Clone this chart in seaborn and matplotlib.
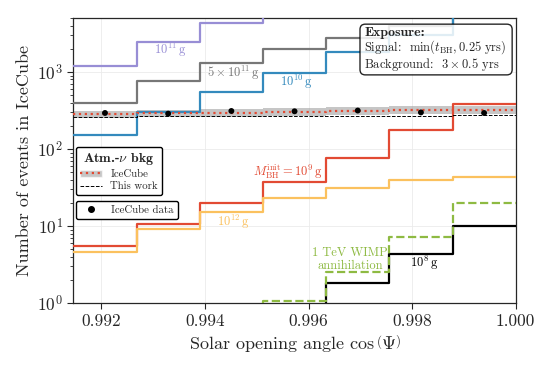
import numpy as np
import pandas as pd
import matplotlib
matplotlib.use("Agg")
import matplotlib.pyplot as plt
import seaborn as sns
from matplotlib.patches import Patch, FancyBboxPatch
from matplotlib.lines import Line2D

# cos(Psi) bin edges (7 bins)
bin_edges = [0.99146, 0.99268, 0.99390, 0.99512, 0.99634, 0.99756, 0.99878, 1.0]

# expected signal counts per bin for each initial PBH mass
sig_1e8 = [0.5, 0.5, 0.5, 0.5, 1.84, 4.33, 10.1]
sig_1e9 = [5.5, 10.8, 20.1, 37.0, 76.0, 178.0, 380.0]
sig_1e10 = [151.0, 300.0, 545.0, 980.0, 1840.0, 3000.0, 8000.0]
sig_1e11 = [1210.0, 2430.0, 4290.0, 8000.0, 10000.0, 12000.0, 14000.0]
sig_5e11 = [395.0, 771.0, 1320.0, 2010.0, 2750.0, 4000.0, 6000.0]
sig_1e12 = [4.55, 9.06, 15.2, 23.3, 31.4, 39.5, 43.7]
wimp_1tev = [0.5, 0.5, 0.5, 1.06, 2.55, 7.26, 19.7]

# atmospheric neutrino background
bkg_icecube = [281.0, 290.0, 296.0, 303.0, 312.0, 318.0, 322.0]
bkg_icecube_lo = [250.0, 258.0, 263.0, 269.0, 277.0, 283.0, 286.0]
bkg_icecube_hi = [316.0, 326.0, 333.0, 341.0, 351.0, 358.0, 362.0]
bkg_this_work = [263.0, 265.0, 266.0, 268.0, 270.0, 272.0, 274.0]

# IceCube data points
data_counts = [294.0, 288.0, 312.0, 309.0, 316.0, 299.0, 294.0]

RED, BLUE, PURPLE, GRAY, ORANGE, GREEN = "#E24A33", "#348ABD", "#988ED5", "#777777", "#FBC15E", "#8EBA42"

sns.set_style("ticks")
plt.rcParams.update({
    "font.family": "serif",
    "font.serif": ["cmr10"],
    "mathtext.fontset": "cm",
    "axes.formatter.use_mathtext": True,
    "axes.unicode_minus": False,
})


def step(ax, vals, color, ls="-", lw=1.6, zorder=3):
    sns.lineplot(x=bin_edges, y=list(vals) + [vals[-1]], drawstyle="steps-post", estimator=None,
                 sort=False, color=color, linestyle=ls, lw=lw, ax=ax, zorder=zorder)


fig = plt.figure(figsize=(5.56, 3.71), dpi=100)
ax = fig.add_axes([0.132, 0.183, 0.7955, 0.768])
ax.set_yscale("log")

ax.fill_between(bin_edges, bkg_icecube_lo + [bkg_icecube_lo[-1]], bkg_icecube_hi + [bkg_icecube_hi[-1]],
                step="post", color="#a0a0a0", alpha=0.6, lw=0, zorder=2)
step(ax, bkg_icecube, RED, ls=":", lw=1.6, zorder=4)
step(ax, bkg_this_work, "black", ls="--", lw=0.7, zorder=4)

step(ax, sig_1e11, PURPLE)
step(ax, sig_5e11, GRAY)
step(ax, sig_1e10, BLUE)
step(ax, sig_1e9, RED)
step(ax, sig_1e12, ORANGE)
step(ax, sig_1e8, "black")
step(ax, wimp_1tev, GREEN, ls="--")

centers = [(a + b) / 2 for a, b in zip(bin_edges[:-1], bin_edges[1:])]
sns.scatterplot(x=centers, y=data_counts, color="black", s=18, edgecolor="none", ax=ax, zorder=6)

ax.set_xlim(bin_edges[0], 1.0)
ax.set_ylim(1, 5000)
ax.set_xticks([0.992, 0.994, 0.996, 0.998, 1.000])
ax.set_xticklabels(["0.992", "0.994", "0.996", "0.998", "1.000"])
ax.tick_params(labelsize=12.5, length=4, width=0.8)
ax.tick_params(which="minor", length=2.5, width=0.6)
ax.grid(True, which="major", color="#ebebeb", lw=0.6)
ax.set_axisbelow(True)
for s in ax.spines.values():
    s.set_linewidth(0.9)

ax.set_xlabel(r"Solar opening angle $\cos\left(\Psi\right)$", fontsize=13, labelpad=3)
ax.set_ylabel("Number of events in IceCube", fontsize=13)

fs = 9
ax.text(0.99333, 1950, r"$10^{11}\,\mathrm{g}$", color=PURPLE, fontsize=fs, ha="center", va="center")
ax.text(0.99456, 980, r"$5\times10^{11}\,\mathrm{g}$", color=GRAY, fontsize=fs, ha="center", va="center")
ax.text(0.99576, 748, r"$10^{10}\,\mathrm{g}$", color=BLUE, fontsize=fs, ha="center", va="center")
ax.text(0.99561, 50, r"$M_{\rm BH}^{\rm init}=10^{9}\,\mathrm{g}$", color=RED, fontsize=fs, ha="center", va="center")
ax.text(0.99454, 11.4, r"$10^{12}\,\mathrm{g}$", color=ORANGE, fontsize=fs, ha="center", va="center")
ax.text(0.99680, 3.67, "1 TeV WIMP\nannihilation", color=GREEN, fontsize=fs, ha="center", va="center",
        linespacing=1.05)
ax.text(0.99823, 3.28, r"$10^{8}\,\mathrm{g}$", color="black", fontsize=fs, ha="center", va="center")

# exposure box (axes coordinates)
ax_w, ax_h = 442.4, 285.0
ax.add_patch(FancyBboxPatch((0.648, 0.801), 0.344, 0.178, boxstyle="round,pad=0,rounding_size=0.012",
                            mutation_aspect=ax_w / ax_h, transform=ax.transAxes, fc="white", ec="black",
                            lw=1.0, alpha=0.85, zorder=9, clip_on=False))
ax.text(0.658, 0.937, "Exposure:", family="cmb10", fontsize=10, transform=ax.transAxes,
        ha="left", va="baseline", zorder=10)
ax.text(0.658, 0.885, "Signal:  $\\min(t_{\\rm BH}, 0.25\\ {\\rm yrs})$", fontsize=9, transform=ax.transAxes,
        ha="left", va="baseline", zorder=10)
ax.text(0.658, 0.824, "Background:  $3\\times0.5$ yrs", fontsize=9, transform=ax.transAxes,
        ha="left", va="baseline", zorder=10)

bkg_handles = [(Patch(facecolor="#a0a0a0", alpha=0.6), Line2D([], [], color=RED, ls=":", lw=1.6)),
               Line2D([], [], color="black", ls="--", lw=0.7)]
leg1 = ax.legend(bkg_handles, ["IceCube", "This work"], title=r"Atm.-$\nu$ bkg",
                 loc="upper left", bbox_to_anchor=(-0.001, 0.559), fontsize=7.8,
                 title_fontproperties={"family": "cmb10", "size": 10},
                 frameon=True, edgecolor="black", framealpha=1, fancybox=True,
                 borderaxespad=0.3, borderpad=0.35, labelspacing=0.25)
leg1.get_frame().set_linewidth(1.0)
ax.add_artist(leg1)
data_handle = [Line2D([], [], color="black", marker="o", ls="none", markersize=4)]
leg2 = ax.legend(data_handle, ["IceCube data"], loc="upper left", bbox_to_anchor=(-0.001, 0.3705),
                 fontsize=7.8, frameon=True, edgecolor="black", framealpha=1, fancybox=True,
                 borderaxespad=0.3)
leg2.get_frame().set_linewidth(1.0)

fig.savefig("out.png", dpi=100)
